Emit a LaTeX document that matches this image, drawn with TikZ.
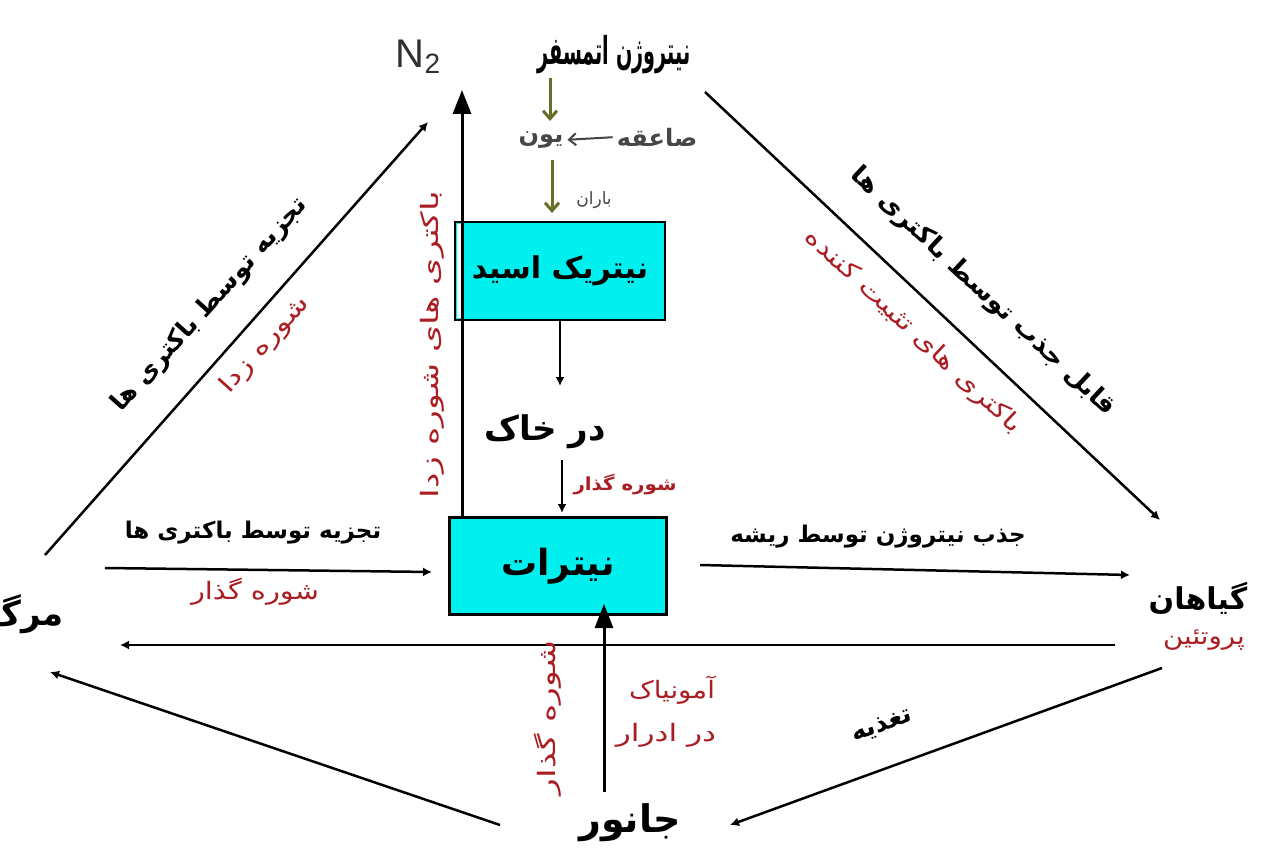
\documentclass[tikz,border=0pt]{standalone}
\usepackage{fontspec}
\usetikzlibrary{arrows.meta}
\newfontfamily\fa[Script=Arabic]{DejaVu Sans}
\newfontfamily\lat{Liberation Sans}
\TeXXeTstate=1
\newcommand\rtl[1]{\beginR#1\endR}
\definecolor{boxcyan}{RGB}{0,240,240}
\definecolor{lblred}{RGB}{170,30,35}
\definecolor{olivearr}{RGB}{105,110,40}
\definecolor{graytxt}{RGB}{70,70,70}
\begin{document}
\begin{tikzpicture}[x=1pt,y=-1pt,
  conn/.style={line width=2.5pt, -{Latex[length=9pt,width=9pt]}},
  bigarr/.style={line width=3pt, -{Triangle[length=24pt,width=18pt]}},
  olive/.style={draw=olivearr, line width=3pt, -{Straight Barb[length=8pt,width=14pt]}},
  mainlbl/.style={font=\fa\bfseries\fontsize{30}{34}\selectfont, inner sep=0pt},
  biglbl/.style={font=\fa\bfseries\fontsize{36}{40}\selectfont, inner sep=0pt},
  midlbl/.style={font=\fa\bfseries\fontsize{23}{26}\selectfont, inner sep=0pt},
  diaglbl/.style={font=\fa\bfseries\fontsize{25}{28}\selectfont, inner sep=0pt},
  redlbl/.style={font=\fa\fontsize{24}{28}\selectfont, text=lblred, inner sep=0pt},
  graylbl/.style={font=\fa\bfseries\fontsize{24}{28}\selectfont, text=graytxt, inner sep=0pt},
  boxst/.style={draw, line width=2.5pt, fill=boxcyan, inner sep=0pt,
    font=\fa\bfseries\fontsize{30}{34}\selectfont}
]
\fill[white] (0,0) rectangle (1280,864);
\path[use as bounding box] (0,0) rectangle (1280,864);

% top
\node[mainlbl, font=\fa\bfseries\fontsize{32}{36}\selectfont, xscale=0.6, yscale=1.2] (atm) at (614,55) {\rtl{نیتروژن اتمسفر}};
\node[font=\lat\fontsize{40}{44}\selectfont, text=graytxt!70!black, inner sep=0pt] (n2) at (418,57) {N\raisebox{-0.3ex}{\fontsize{28}{30}\selectfont 2}};
\node[graylbl] (yoon) at (541,140) {\rtl{یون}};
\node[graylbl] (saeqe) at (657,137) {\rtl{صاعقه}};
\draw[graytxt, line width=2pt, -{Straight Barb[length=7pt,width=12pt]}, shorten <=4pt, shorten >=4pt] (saeqe.west) -- (yoon.east);
\coordinate (o1a) at (550,78);
\coordinate (o1b) at (550,121);
\draw[olive] (o1a) -- (o1b);
\coordinate (o2a) at (552,160);
\coordinate (o2b) at (552,213);
\draw[olive] (o2a) -- (o2b);
\node[font=\fa\fontsize{17}{19}\selectfont, text=graytxt, inner sep=0pt] (baran) at (594,200) {\rtl{باران}};

% boxes
\node[boxst, minimum width=210pt, minimum height=98pt] (acid) at (560,271) {\rtl{نیتریک اسید}};
\fill[white] (457,224) rectangle (461,318);
\node[boxst, minimum width=217pt, minimum height=97pt, font=\fa\bfseries\fontsize{36}{40}\selectfont] (nitrate) at (558,566) {\rtl{نیترات}};

% big up arrow to N2
\coordinate (bigtop) at (462,90);
\draw[bigarr] (nitrate.north -| bigtop) -- (bigtop);
\node[redlbl, rotate=90, xscale=1.45] (bsz) at (432,345) {\rtl{باکتری های شوره زدا}};

% soil
\node[mainlbl, font=\fa\bfseries\fontsize{34}{38}\selectfont] (khak) at (545,432) {\rtl{در خاک}};
\coordinate (k1) at (560,386);
\draw[conn] (acid.south) -- (k1);
\coordinate (k2a) at (562,460);
\coordinate (k2b) at (562,513);
\draw[conn] (k2a) -- (k2b);
\node[redlbl, font=\fa\bfseries\fontsize{18}{20}\selectfont, xscale=1.1] (shg1) at (625,485) {\rtl{شوره گذار}};

% death
\node[mainlbl, anchor=east, font=\fa\bfseries\fontsize{34}{38}\selectfont] (marg) at (64,614) {\rtl{مرگ}};
\coordinate (ulA) at (45,555);
\coordinate (ulB) at (428,122);
\draw[conn] (ulA) -- (ulB);
\node[diaglbl, rotate=48] (ulL) at (210,305) {\rtl{تجزیه توسط باکتری ها}};
\node[redlbl, rotate=48, xscale=1.3] (ulR) at (265,345) {\rtl{شوره زدا}};

% right diagonal
\coordinate (urA) at (705,92);
\coordinate (urB) at (1160,520);
\draw[conn] (urA) -- (urB);
\node[diaglbl, rotate=-43, xscale=1.05] (urL) at (983,292) {\rtl{قابل جذب توسط باکتری ها}};
\node[redlbl, rotate=-43, xscale=1.25] (urR) at (913,332) {\rtl{باکتری های تثبیت کننده}};

% plants
\node[mainlbl] (giahan) at (1198,598) {\rtl{گیاهان}};
\node[redlbl, xscale=1.15] (prot1) at (1204,640) {\rtl{پروتئین}};

% horizontal arrows
\coordinate (h1a) at (105,568);
\coordinate (h1b) at (432,572);
\draw[conn] (h1a) -- (h1b);
\node[midlbl] (h1L) at (253,533) {\rtl{تجزیه توسط باکتری ها}};
\node[redlbl, xscale=1.2] (h1R) at (255,592) {\rtl{شوره گذار}};
\coordinate (h2a) at (700,565);
\coordinate (h2b) at (1130,575);
\draw[conn] (h2a) -- (h2b);
\node[midlbl] (h2L) at (878,537) {\rtl{جذب نیتروژن توسط ریشه}};
\coordinate (h3a) at (1115,645);
\coordinate (h3b) at (120,645);
\draw[conn] (h3a) -- (h3b);

% animal
\node[biglbl, font=\fa\bfseries\fontsize{38}{42}\selectfont] (janvar) at (630,823) {\rtl{جانور}};
\node[redlbl] (prot2) at (630,878) {\rtl{پروتئین}};
\coordinate (jvA) at (604,792);
\coordinate (jvB) at (604,604);
\draw[bigarr] (jvA) -- (jvB);
\node[redlbl, xscale=1.15] (amon) at (672,690) {\rtl{آمونیاک}};
\node[redlbl, xscale=1.3] (adrar) at (666,735) {\rtl{در ادرار}};
\node[redlbl, rotate=90, xscale=1.45] (shg2) at (548,718) {\rtl{شوره گذار}};

\coordinate (llA) at (500,825);
\coordinate (llB) at (50,672);
\draw[conn] (llA) -- (llB);
\coordinate (lrA) at (1162,668);
\coordinate (lrB) at (730,825);
\draw[conn] (lrA) -- (lrB);
\node[diaglbl, rotate=20] (taghz) at (882,726) {\rtl{تغذیه}};
\end{tikzpicture}
\end{document}
